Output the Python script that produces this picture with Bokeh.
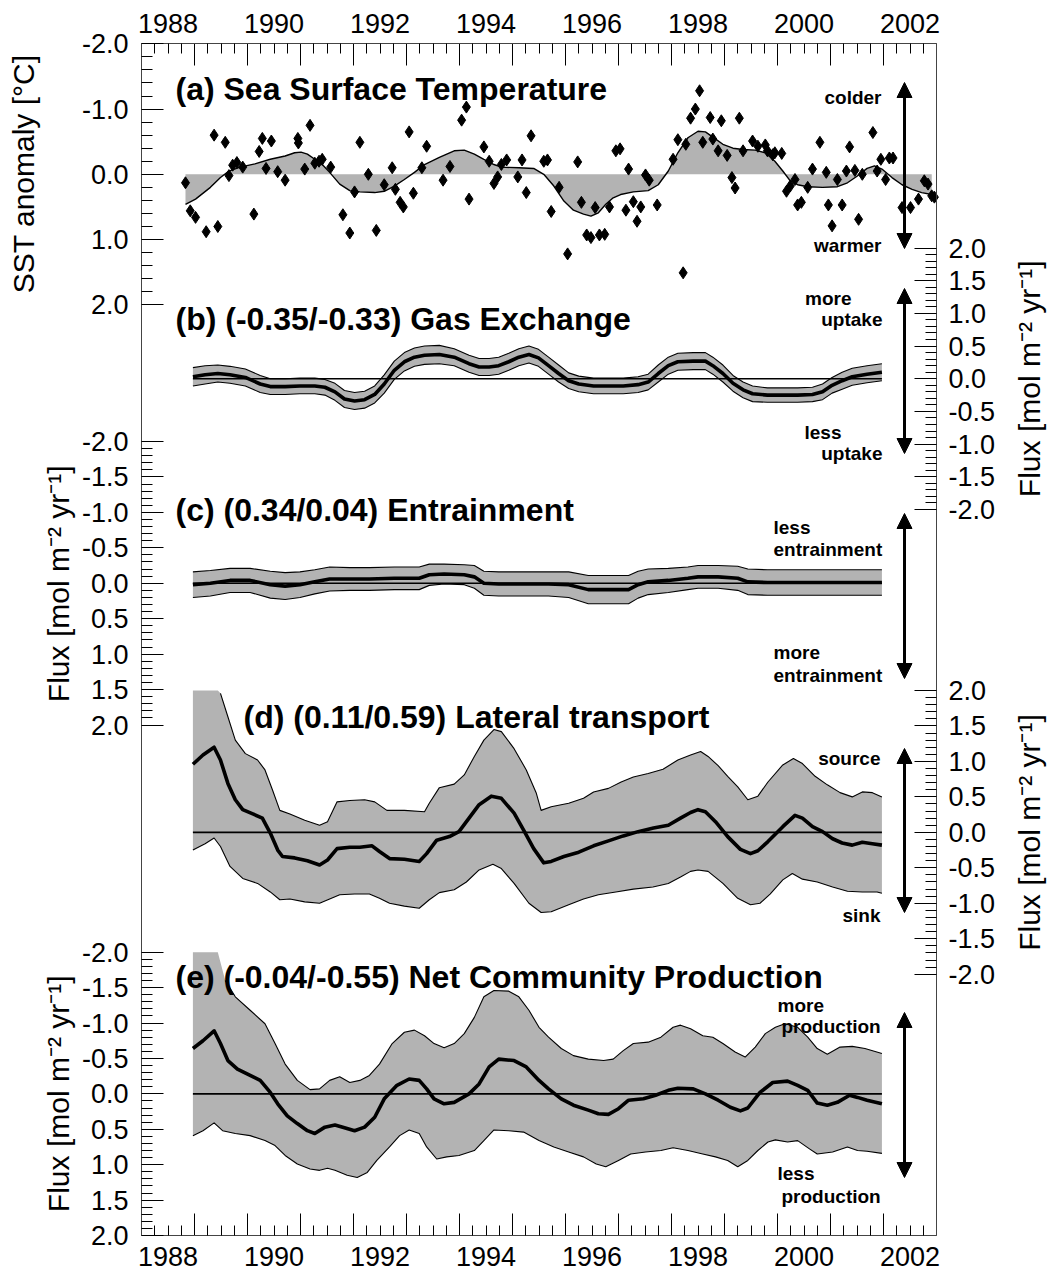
import numpy as np
from bokeh.plotting import figure
from bokeh.models import (Range1d, LinearAxis, FixedTicker, CustomJSTickFormatter,
                          Label, Arrow, NormalHead)
from bokeh.embed import file_html
from bokeh.resources import INLINE

# ---------------- data ----------------
# (a) SST anomaly, monthly points [deg C] (positive = warmer, plotted downward)
sst_year = [1988.33, 1988.42, 1988.52, 1988.72, 1988.87, 1988.94, 1989.08, 1989.15, 1989.22, 1989.30,
            1989.41, 1989.62, 1989.72, 1989.78, 1989.85, 1989.95, 1990.07, 1990.21, 1990.45, 1990.46,
            1990.58, 1990.68, 1990.77, 1990.85, 1990.91, 1991.07, 1991.30, 1991.43, 1991.52, 1991.62,
            1991.78, 1991.93, 1992.08, 1992.23, 1992.29, 1992.38, 1992.44, 1992.55, 1992.63, 1992.79,
            1992.88, 1993.19, 1993.32, 1993.54, 1993.63, 1993.68, 1993.96, 1994.06, 1994.15, 1994.22,
            1994.29, 1994.39, 1994.60, 1994.68, 1994.76, 1994.85, 1995.09, 1995.16, 1995.23, 1995.38,
            1995.54, 1995.73, 1995.80, 1995.90, 1995.98, 1996.06, 1996.14, 1996.24, 1996.33, 1996.45,
            1996.53, 1996.64, 1996.69, 1996.78, 1996.85, 1996.92, 1997.01, 1997.08, 1997.23, 1997.53,
            1997.62, 1997.72, 1997.77, 1997.86, 1997.95, 1998.03, 1998.09, 1998.23, 1998.28, 1998.38,
            1998.44, 1998.55, 1998.64, 1998.70, 1998.78, 1998.85, 1999.03, 1999.13, 1999.27, 1999.31,
            1999.41, 1999.45, 1999.58, 1999.67, 1999.74, 1999.83, 1999.88, 1999.95, 2000.07, 2000.16,
            2000.30, 2000.42, 2000.46, 2000.53, 2000.63, 2000.72, 2000.80, 2000.86, 2000.96, 2001.03,
            2001.10, 2001.30, 2001.38, 2001.45, 2001.54, 2001.61, 2001.68, 2001.85, 2002.01, 2002.16,
            2002.27, 2002.34, 2002.41, 2002.46]
sst_anom = [0.13, 0.56, 0.66, 0.88, -0.60, 0.80, -0.49, 0.02, -0.14, -0.18,
            -0.11, 0.61, -0.35, -0.55, -0.09, -0.51, -0.04, 0.09, -0.55, -0.48,
            -0.08, -0.75, -0.17, -0.20, -0.23, -0.11, 0.62, 0.90, 0.27, -0.49,
            0.00, 0.86, 0.16, -0.10, 0.23, 0.43, 0.50, -0.65, 0.29, -0.10,
            -0.43, 0.09, -0.12, -0.83, -1.03, 0.38, -0.42, -0.20, 0.14, 0.04,
            -0.15, -0.22, 0.04, -0.22, 0.28, -0.59, -0.20, -0.22, 0.57, 0.20,
            1.22, -0.19, 0.43, 0.93, 0.97, 0.51, 0.93, 0.92, 0.50, -0.36,
            -0.39, 0.55, -0.08, 0.42, 0.72, 0.50, 0.01, 0.09, 0.47, -0.23,
            -0.53, 1.51, -0.46, -0.86, -1.00, -1.28, -0.49, -0.87, -0.54, -0.36,
            -0.82, -0.29, 0.05, 0.21, -0.86, -0.36, -0.51, -0.43, -0.45, -0.36,
            -0.30, -0.33, -0.32, 0.26, 0.18, 0.08, 0.47, 0.43, 0.20, -0.08,
            -0.49, -0.03, 0.47, 0.79, 0.08, 0.47, -0.05, -0.42, -0.06, 0.69,
            0.00, -0.64, -0.05, -0.23, 0.08, -0.25, -0.25, 0.51, 0.51, 0.38,
            0.10, 0.15, 0.33, 0.35]
# (a) smoothed SST anomaly
sst_smooth_year = [1988.33, 1988.52, 1988.80, 1988.99, 1989.15, 1989.36, 1989.64, 1989.93, 1990.21, 1990.39,
                   1990.51, 1990.63, 1990.77, 1990.91, 1991.05, 1991.24, 1991.43, 1991.62, 1991.90, 1992.08,
                   1992.27, 1992.46, 1992.65, 1992.84, 1993.12, 1993.40, 1993.59, 1993.78, 1993.96, 1994.15,
                   1994.29, 1994.62, 1994.90, 1995.09, 1995.28, 1995.47, 1995.65, 1995.84, 1995.98, 1996.12,
                   1996.26, 1996.40, 1996.54, 1996.78, 1997.06, 1997.25, 1997.44, 1997.62, 1997.81, 1998.00,
                   1998.14, 1998.28, 1998.47, 1998.66, 1998.85, 1999.08, 1999.27, 1999.45, 1999.60, 1999.74,
                   1999.88, 2000.07, 2000.35, 2000.63, 2000.82, 2001.00, 2001.19, 2001.33, 2001.47, 2001.66,
                   2001.85, 2002.04, 2002.22, 2002.41]
sst_smooth = [0.46, 0.38, 0.20, 0.05, -0.05, -0.11, -0.16, -0.23, -0.28, -0.33,
              -0.34, -0.31, -0.23, -0.15, -0.03, 0.15, 0.25, 0.27, 0.28, 0.26,
              0.18, 0.08, -0.03, -0.15, -0.26, -0.36, -0.37, -0.31, -0.23, -0.15,
              -0.11, -0.10, -0.09, 0.00, 0.18, 0.41, 0.55, 0.61, 0.64, 0.59,
              0.46, 0.36, 0.31, 0.27, 0.25, 0.16, -0.05, -0.33, -0.56, -0.66,
              -0.65, -0.57, -0.46, -0.40, -0.38, -0.37, -0.33, -0.20, -0.05, 0.10,
              0.16, 0.19, 0.20, 0.19, 0.13, 0.03, -0.09, -0.13, -0.08, 0.05,
              0.16, 0.23, 0.28, 0.31]

# (b) gas exchange [mol m-2 yr-1]
gas_year = [1988.47, 1988.70, 1988.94, 1989.17, 1989.46, 1989.74, 1989.93, 1990.21, 1990.49, 1990.77,
            1990.96, 1991.15, 1991.33, 1991.52, 1991.71, 1991.90, 1992.08, 1992.27, 1992.46, 1992.65,
            1992.84, 1993.12, 1993.40, 1993.68, 1993.87, 1994.06, 1994.24, 1994.43, 1994.62, 1994.81,
            1994.99, 1995.18, 1995.37, 1995.56, 1995.75, 1996.03, 1996.31, 1996.59, 1996.87, 1997.06,
            1997.25, 1997.44, 1997.62, 1997.91, 1998.14, 1998.28, 1998.47, 1998.66, 1998.85, 1999.03,
            1999.31, 1999.60, 1999.88, 2000.16, 2000.35, 2000.53, 2000.72, 2000.91, 2001.19, 2001.47]
gas_flux = [0.03, 0.06, 0.08, 0.06, 0.02, -0.08, -0.12, -0.12, -0.11, -0.11,
            -0.13, -0.20, -0.31, -0.34, -0.32, -0.24, -0.08, 0.13, 0.26, 0.33,
            0.36, 0.37, 0.33, 0.23, 0.18, 0.18, 0.20, 0.26, 0.33, 0.37,
            0.32, 0.20, 0.08, -0.03, -0.08, -0.11, -0.11, -0.11, -0.09, -0.05,
            0.08, 0.20, 0.26, 0.27, 0.27, 0.20, 0.08, -0.07, -0.17, -0.23,
            -0.25, -0.25, -0.25, -0.24, -0.20, -0.10, -0.03, 0.03, 0.07, 0.10]
gas_unc = [0.14, 0.14, 0.13, 0.13, 0.13, 0.13, 0.12, 0.12, 0.12, 0.12,
           0.12, 0.13, 0.13, 0.13, 0.13, 0.13, 0.14, 0.14, 0.14, 0.14,
           0.14, 0.14, 0.13, 0.13, 0.13, 0.13, 0.13, 0.13, 0.13, 0.13,
           0.13, 0.13, 0.13, 0.12, 0.12, 0.12, 0.12, 0.12, 0.12, 0.12,
           0.13, 0.13, 0.13, 0.13, 0.13, 0.13, 0.13, 0.12, 0.12, 0.12,
           0.11, 0.11, 0.11, 0.11, 0.12, 0.12, 0.13, 0.13, 0.13, 0.13]

# (c) entrainment
ent_year = [1988.47, 1988.80, 1989.17, 1989.55, 1989.93, 1990.21, 1990.49, 1990.77, 1991.05, 1991.43,
            1991.80, 1992.27, 1992.74, 1992.93, 1993.21, 1993.59, 1993.78, 1993.96, 1994.24, 1994.62,
            1995.18, 1995.56, 1995.93, 1996.31, 1996.69, 1996.87, 1997.06, 1997.44, 1997.81, 1998.00,
            1998.38, 1998.75, 1998.94, 1999.31, 1999.78, 2000.25, 2000.72, 2001.47]
ent_flux = [0.02, 0.00, -0.04, -0.04, 0.02, 0.04, 0.02, -0.02, -0.06, -0.06,
            -0.06, -0.07, -0.07, -0.12, -0.13, -0.12, -0.09, 0.00, 0.01, 0.01,
            0.01, 0.02, 0.09, 0.09, 0.09, 0.02, -0.02, -0.04, -0.07, -0.09,
            -0.09, -0.07, -0.02, -0.01, -0.01, -0.01, -0.01, -0.01]
ent_unc = [0.18, 0.18, 0.17, 0.17, 0.19, 0.19, 0.18, 0.17, 0.17, 0.16,
           0.16, 0.16, 0.16, 0.15, 0.14, 0.14, 0.16, 0.17, 0.17, 0.17,
           0.17, 0.18, 0.20, 0.20, 0.20, 0.19, 0.18, 0.17, 0.16, 0.16,
           0.16, 0.17, 0.18, 0.18, 0.18, 0.18, 0.18, 0.18]

# (d) lateral transport
lat_year = [1988.47, 1988.66, 1988.87, 1988.99, 1989.13, 1989.27, 1989.41, 1989.60, 1989.78, 1989.93,
            1990.07, 1990.16, 1990.39, 1990.63, 1990.86, 1991.01, 1991.19, 1991.43, 1991.62, 1991.85,
            1991.99, 1992.18, 1992.46, 1992.74, 1992.88, 1993.07, 1993.31, 1993.49, 1993.68, 1993.87,
            1994.10, 1994.29, 1994.53, 1994.71, 1994.90, 1995.09, 1995.23, 1995.47, 1995.75, 1996.03,
            1996.31, 1996.59, 1996.87, 1997.16, 1997.44, 1997.67, 1997.86, 1998.00, 1998.14, 1998.33,
            1998.56, 1998.80, 1998.99, 1999.13, 1999.32, 1999.60, 1999.83, 1999.97, 2000.16, 2000.35,
            2000.54, 2000.72, 2000.91, 2001.10, 2001.29, 2001.47]
lat_flux = [0.96, 1.09, 1.20, 1.02, 0.69, 0.46, 0.32, 0.26, 0.20, -0.01,
            -0.25, -0.34, -0.36, -0.40, -0.46, -0.39, -0.23, -0.21, -0.21, -0.19,
            -0.27, -0.37, -0.38, -0.41, -0.30, -0.11, -0.06, 0.01, 0.20, 0.39,
            0.51, 0.48, 0.27, 0.03, -0.23, -0.43, -0.41, -0.34, -0.28, -0.19,
            -0.12, -0.05, 0.01, 0.06, 0.10, 0.20, 0.28, 0.32, 0.29, 0.15,
            -0.06, -0.24, -0.30, -0.26, -0.13, 0.08, 0.24, 0.20, 0.08, 0.01,
            -0.09, -0.15, -0.18, -0.14, -0.16, -0.18]
lat_hi_year = [1988.47, 1988.94, 1988.99, 1989.13, 1989.27, 1989.46, 1989.69, 1989.83, 1989.97, 1990.11,
               1990.30, 1990.58, 1990.86, 1991.01, 1991.19, 1991.43, 1991.71, 1991.90, 1992.13, 1992.46,
               1992.84, 1992.93, 1993.12, 1993.40, 1993.59, 1993.78, 1993.96, 1994.15, 1994.29, 1994.53,
               1994.76, 1994.95, 1995.04, 1995.23, 1995.56, 1995.84, 1996.03, 1996.31, 1996.55, 1996.78,
               1997.06, 1997.34, 1997.62, 1997.86, 1998.05, 1998.19, 1998.38, 1998.56, 1998.75, 1998.94,
               1999.13, 1999.32, 1999.60, 1999.80, 1999.97, 2000.21, 2000.44, 2000.68, 2000.91, 2001.10,
               2001.29, 2001.47]
lat_hi = [2.60, 2.10, 1.96, 1.63, 1.30, 1.11, 1.02, 0.88, 0.60, 0.31,
          0.26, 0.17, 0.10, 0.15, 0.43, 0.45, 0.46, 0.43, 0.31, 0.31,
          0.29, 0.41, 0.63, 0.68, 0.81, 1.07, 1.30, 1.45, 1.42, 1.18,
          0.88, 0.55, 0.31, 0.36, 0.41, 0.48, 0.57, 0.62, 0.71, 0.78,
          0.83, 0.89, 1.02, 1.09, 1.14, 1.07, 0.94, 0.79, 0.64, 0.46,
          0.51, 0.71, 0.95, 1.04, 0.97, 0.79, 0.67, 0.56, 0.50, 0.57,
          0.56, 0.50]
lat_lo_year = [1988.47, 1988.70, 1988.87, 1988.99, 1989.17, 1989.41, 1989.69, 1989.93, 1990.11, 1990.30,
               1990.58, 1990.86, 1991.05, 1991.24, 1991.52, 1991.80, 1991.99, 1992.18, 1992.46, 1992.74,
               1992.93, 1993.12, 1993.40, 1993.63, 1993.87, 1994.13, 1994.29, 1994.53, 1994.81, 1995.04,
               1995.23, 1995.56, 1995.84, 1996.12, 1996.45, 1996.78, 1997.15, 1997.44, 1997.67, 1997.86,
               1998.00, 1998.19, 1998.47, 1998.75, 1998.99, 1999.17, 1999.36, 1999.60, 1999.78, 1999.97,
               2000.25, 2000.54, 2000.82, 2001.10, 2001.38, 2001.47]
lat_lo = [-0.25, -0.16, -0.08, -0.20, -0.48, -0.65, -0.72, -0.84, -0.95, -0.94,
          -0.98, -1.00, -0.94, -0.88, -0.87, -0.87, -0.93, -1.00, -1.04, -1.07,
          -0.95, -0.85, -0.81, -0.70, -0.53, -0.45, -0.51, -0.72, -1.00, -1.13,
          -1.12, -1.02, -0.94, -0.88, -0.84, -0.80, -0.77, -0.72, -0.63, -0.55,
          -0.53, -0.55, -0.72, -0.93, -1.02, -1.00, -0.87, -0.67, -0.58, -0.66,
          -0.70, -0.77, -0.83, -0.84, -0.84, -0.86]

# (e) net community production
ncp_year = [1988.47, 1988.66, 1988.87, 1988.99, 1989.13, 1989.31, 1989.55, 1989.74, 1989.93, 1990.07,
            1990.25, 1990.44, 1990.63, 1990.77, 1990.96, 1991.15, 1991.33, 1991.52, 1991.71, 1991.90,
            1992.08, 1992.32, 1992.55, 1992.74, 1992.88, 1993.02, 1993.21, 1993.40, 1993.68, 1993.87,
            1994.06, 1994.24, 1994.53, 1994.76, 1995.00, 1995.18, 1995.42, 1995.65, 1995.93, 1996.12,
            1996.31, 1996.50, 1996.69, 1996.97, 1997.20, 1997.44, 1997.62, 1997.91, 1998.14, 1998.38,
            1998.61, 1998.80, 1998.94, 1999.17, 1999.41, 1999.69, 1999.88, 2000.07, 2000.25, 2000.44,
            2000.63, 2000.86, 2001.01, 2001.19, 2001.47]
ncp_flux = [-0.64, -0.75, -0.89, -0.71, -0.47, -0.35, -0.26, -0.19, -0.02, 0.14,
            0.31, 0.42, 0.52, 0.56, 0.47, 0.44, 0.48, 0.52, 0.47, 0.33,
            0.07, -0.12, -0.21, -0.19, -0.07, 0.07, 0.14, 0.12, 0.00, -0.14,
            -0.38, -0.49, -0.47, -0.38, -0.19, -0.07, 0.07, 0.16, 0.23, 0.28,
            0.29, 0.21, 0.09, 0.07, 0.02, -0.05, -0.08, -0.07, 0.00, 0.09,
            0.19, 0.24, 0.20, -0.02, -0.16, -0.18, -0.12, -0.05, 0.13, 0.16,
            0.12, 0.02, 0.05, 0.09, 0.14]
ncp_hi_year = [1988.47, 1988.94, 1989.08, 1989.27, 1989.55, 1989.83, 1990.02, 1990.21, 1990.44, 1990.68,
               1990.86, 1991.05, 1991.24, 1991.43, 1991.62, 1991.80, 1991.99, 1992.23, 1992.46, 1992.65,
               1992.84, 1993.02, 1993.21, 1993.40, 1993.59, 1993.78, 1993.96, 1994.15, 1994.43, 1994.62,
               1994.81, 1995.00, 1995.18, 1995.42, 1995.65, 1995.93, 1996.22, 1996.40, 1996.59, 1996.78,
               1997.06, 1997.30, 1997.53, 1997.67, 1997.86, 1998.09, 1998.28, 1998.47, 1998.70, 1998.89,
               1999.08, 1999.27, 1999.46, 1999.64, 1999.88, 2000.07, 2000.25, 2000.44, 2000.68, 2000.91,
               2001.15, 2001.47]
ncp_hi = [-2.60, -2.05, -1.60, -1.37, -1.18, -0.99, -0.71, -0.42, -0.19, -0.06,
          -0.07, -0.19, -0.24, -0.16, -0.19, -0.26, -0.42, -0.71, -0.87, -0.90,
          -0.82, -0.71, -0.65, -0.71, -0.85, -1.08, -1.37, -1.46, -1.45, -1.37,
          -1.18, -0.94, -0.80, -0.64, -0.54, -0.49, -0.47, -0.49, -0.61, -0.71,
          -0.73, -0.80, -0.94, -0.97, -0.92, -0.82, -0.80, -0.71, -0.59, -0.52,
          -0.66, -0.85, -0.94, -0.99, -0.94, -0.80, -0.64, -0.56, -0.66, -0.67,
          -0.64, -0.57]
ncp_lo_year = [1988.47, 1988.66, 1988.87, 1989.03, 1989.27, 1989.55, 1989.83, 1990.02, 1990.21, 1990.44,
               1990.68, 1990.86, 1991.01, 1991.15, 1991.38, 1991.57, 1991.76, 1991.94, 1992.18, 1992.37,
               1992.55, 1992.74, 1992.88, 1993.07, 1993.26, 1993.49, 1993.78, 1993.96, 1994.15, 1994.43,
               1994.71, 1995.00, 1995.28, 1995.56, 1995.84, 1996.08, 1996.26, 1996.50, 1996.73, 1997.01,
               1997.30, 1997.53, 1997.81, 1998.09, 1998.33, 1998.56, 1998.75, 1998.94, 1999.13, 1999.32,
               1999.46, 1999.69, 1999.88, 2000.11, 2000.25, 2000.54, 2000.82, 2001.01, 2001.19, 2001.47]
ncp_lo = [0.59, 0.52, 0.41, 0.52, 0.56, 0.59, 0.66, 0.73, 0.87, 0.99,
          1.06, 1.08, 1.05, 1.08, 1.15, 1.18, 1.11, 0.94, 0.75, 0.59,
          0.51, 0.56, 0.75, 0.92, 0.89, 0.87, 0.80, 0.66, 0.51, 0.52,
          0.54, 0.66, 0.75, 0.82, 0.89, 0.99, 1.03, 0.94, 0.85, 0.82,
          0.80, 0.76, 0.80, 0.85, 0.89, 0.94, 1.03, 0.94, 0.80, 0.68,
          0.65, 0.68, 0.66, 0.78, 0.85, 0.82, 0.75, 0.80, 0.81, 0.84]

year_labels = [1988, 1990, 1992, 1994, 1996, 1998, 2000, 2002]

# ---------------- layout ----------------
W, H = 1047, 1270
FL, FR, FT, FB = 141, 936, 43, 1235          # pixel box of the axes
X0, X1 = 1987.5, 2002.5                      # years at the box edges
PPY = (FR - FL) / (X1 - X0)                  # pixels per year
FONT = "Liberation Sans"
GRAY = "#b3b3b3"
BOX = "#444444"
LIM = 2.0

# pixel rows of the +-2 limits of each panel: (px top, px bottom, value top, value bottom)
PANEL_PX = {
    "a": (43.3, 304.3, -2.0, 2.0),
    "b": (247.5, 509.0, 2.0, -2.0),
    "c": (441.0, 724.5, -2.0, 2.0),
    "d": (690.0, 973.7, 2.0, -2.0),
    "e": (951.7, 1235.0, -2.0, 2.0),
}


def val_at(k, px):
    t, b, vt, vb = PANEL_PX[k]
    return vt + (px - t) * (vb - vt) / (b - t)


def px_at(k, v):
    t, b, vt, vb = PANEL_PX[k]
    return t + (v - vt) * (b - t) / (vb - vt)


# the frame covers the whole canvas; the axes are drawn at fixed locations
p = figure(width=W, height=H, output_backend="svg", toolbar_location=None,
           x_range=Range1d(X0 - FL / PPY, X1 + (W - FR) / PPY), y_range=Range1d(H, 0),
           x_axis_type=None, y_axis_type=None, min_border=0)
p.outline_line_color = None
p.background_fill_color = "white"
p.border_fill_color = "white"
p.extra_x_ranges = {"px": Range1d(0, W)}
p.extra_y_ranges = {k: Range1d(val_at(k, H), val_at(k, 0)) for k in PANEL_PX}

# ---------------- x axes ----------------
half_years = [X0 + k for k in range(16)]
quarter = [X0 + 0.25 * k for k in range(61)]
quarter_minor = [q for q in quarter
                 if abs((q - X0) % 1.0) > 1e-6 and all(abs(q - y) > 1e-6 for y in year_labels)]

for side, loc, standoff in (("above", FT, 11), ("below", FB, 11)):
    ax_t = LinearAxis(ticker=FixedTicker(ticks=[], minor_ticks=half_years),
                      fixed_location=loc, bounds=(X0, X1),
                      major_tick_in=0, major_tick_out=0, minor_tick_in=22, minor_tick_out=0,
                      minor_tick_line_color="black", axis_line_color=None)
    p.add_layout(ax_t, side)
    ax_l = LinearAxis(ticker=FixedTicker(ticks=year_labels, minor_ticks=quarter_minor),
                      fixed_location=loc, bounds=(X0, X1),
                      major_tick_in=10, major_tick_out=0, minor_tick_in=10, minor_tick_out=0,
                      major_tick_line_color="black", minor_tick_line_color="black",
                      axis_line_color=BOX, axis_line_width=1, major_label_standoff=standoff,
                      major_label_text_font=FONT, major_label_text_font_size="27px",
                      major_label_text_color="black")
    p.add_layout(ax_l, side)


# ---------------- y axes (one per side, ticks of several panels) ----------------
def panel_ticks(k, step_major, step_minor):
    majors = [round(-2 + i * step_major, 2) for i in range(int(round(4 / step_major)) + 1)]
    allm = [round(-2 + i * step_minor, 2) for i in range(int(round(4 / step_minor)) + 1)]
    minors = [v for v in allm if all(abs(v - m) > 1e-6 for m in majors)]
    return ([px_at(k, v) for v in majors], [f"{v + 0.0:.1f}" for v in majors],
            [px_at(k, v) for v in minors])


def side_axis(specs, side, loc, standoff):
    pos, lab, mino = [], [], []
    for k, smj, smn in specs:
        a, b, c = panel_ticks(k, smj, smn)
        pos += a
        lab += b
        mino += c
    fmt = CustomJSTickFormatter(args=dict(pos=pos, lab=lab), code="""
        let j = -1, d = 1e9;
        for (let i = 0; i < pos.length; i++) {
            const e = Math.abs(pos[i] - tick);
            if (e < d) { d = e; j = i; }
        }
        return (j >= 0 && d < 1e-3) ? lab[j] : "";
    """)
    ax = LinearAxis(ticker=FixedTicker(ticks=pos, minor_ticks=mino), formatter=fmt,
                    fixed_location=loc, bounds=(FT, FB),
                    major_tick_in=22, major_tick_out=0, minor_tick_in=11, minor_tick_out=0,
                    major_tick_line_color="black", minor_tick_line_color="black",
                    axis_line_color=BOX, axis_line_width=1, major_label_standoff=standoff,
                    major_label_text_font=FONT, major_label_text_font_size="27px",
                    major_label_text_color="black")
    p.add_layout(ax, side)


side_axis([("a", 1.0, 0.2), ("c", 0.5, 0.1), ("e", 0.5, 0.1)], "left", X0, 13)
side_axis([("b", 0.5, 0.1), ("d", 0.5, 0.1)], "right", X1, 12)

# ---------------- panel (a) ----------------
p.varea(x=sst_smooth_year, y1=0, y2=sst_smooth, fill_color=GRAY, y_range_name="a")
p.line(sst_smooth_year, sst_smooth, line_color="black", line_width=1.4, y_range_name="a")
p.scatter(sst_year, sst_anom, marker="diamond", size=12, color="black", y_range_name="a")


# ---------------- band panels ----------------
def band_panel(k, xc, yc, xh, yh, xl, yl):
    yh = np.asarray(yh, float)
    yl = np.asarray(yl, float)
    yh_c = np.clip(yh, -LIM, LIM)
    yl_c = np.clip(yl, -LIM, LIM)
    xs = list(xh) + list(xl)[::-1]
    ys = list(yh_c) + list(yl_c)[::-1]
    p.patch(xs, ys, fill_color=GRAY, line_color=None, y_range_name=k)
    p.line([xc[0], xc[-1]], [0, 0], line_color="black", line_width=1.6, y_range_name=k)
    p.line(list(xh), list(np.where(np.abs(yh) > LIM, np.nan, yh)), line_color="black",
           line_width=1.1, line_join="round", y_range_name=k)
    p.line(list(xl), list(np.where(np.abs(yl) > LIM, np.nan, yl)), line_color="black",
           line_width=1.1, line_join="round", y_range_name=k)
    p.line(list(xc), list(yc), line_color="black", line_width=3.6, line_join="round",
           y_range_name=k)


gb = np.array(gas_flux)
gu = np.array(gas_unc)
band_panel("b", gas_year, gas_flux, gas_year, gb + gu, gas_year, gb - gu)
cb = np.array(ent_flux)
cu = np.array(ent_unc)
band_panel("c", ent_year, ent_flux, ent_year, cb - cu, ent_year, cb + cu)
band_panel("d", lat_year, lat_flux, lat_hi_year, lat_hi, lat_lo_year, lat_lo)
band_panel("e", ncp_year, ncp_flux, ncp_hi_year, ncp_hi, ncp_lo_year, ncp_lo)


# ---------------- texts ----------------
def text(txt, x, y, size, bold=False, align="left", baseline="alphabetic", angle=0.0):
    p.add_layout(Label(x=x, y=y, x_range_name="px", text=txt, text_font=FONT,
                       text_font_size=f"{size}px",
                       text_font_style="bold" if bold else "normal",
                       text_align=align, text_baseline=baseline, angle=angle,
                       text_color="black"))


titles = [("(a) Sea Surface Temperature", 175, 88.5),
          ("(b) (-0.35/-0.33) Gas Exchange", 175, 318),
          ("(c) (0.34/0.04) Entrainment", 175, 509),
          ("(d) (0.11/0.59) Lateral transport", 243, 716),
          ("(e) (-0.04/-0.55) Net Community Production", 175, 976)]
for t, x, y in titles:
    text(t, x, y, 32, bold=True, baseline="middle")

notes = [("colder", 881, 97, "right"), ("warmer", 881, 245, "right"),
         ("more", 851, 298, "right"), ("uptake", 882, 319, "right"),
         ("less", 841, 432, "right"), ("uptake", 882, 453, "right"),
         ("less", 773, 527, "left"), ("entrainment", 773, 549, "left"),
         ("more", 773, 652, "left"), ("entrainment", 773, 675, "left"),
         ("source", 880, 758, "right"), ("sink", 880, 915, "right"),
         ("more", 777, 1005, "left"), ("production", 781, 1026, "left"),
         ("less", 777, 1173, "left"), ("production", 781, 1196, "left")]
for t, x, y, al in notes:
    text(t, x, y, 19, bold=True, align=al)

flux_label = "Flux [mol m\u207b\u00b2 yr\u207b\u00b9]"
text("SST anomaly [\u00b0C]", 23, 173.3, 30, align="center", baseline="middle", angle=np.pi / 2)
text(flux_label, 58, 583.3, 30, align="center", baseline="middle", angle=np.pi / 2)
text(flux_label, 58, 1093.3, 30, align="center", baseline="middle", angle=np.pi / 2)
text(flux_label, 1029, 378.3, 30, align="center", baseline="middle", angle=np.pi / 2)
text(flux_label, 1029, 832.0, 30, align="center", baseline="middle", angle=np.pi / 2)

# ---------------- double arrows ----------------
for y0, y1 in ((82, 248), (288, 453), (513, 678), (748, 912), (1012, 1177)):
    p.add_layout(Arrow(x_start=904, y_start=y0, x_end=904, y_end=y1, x_range_name="px",
                       line_width=3, line_color="black",
                       start=NormalHead(size=15, fill_color="black", line_color="black"),
                       end=NormalHead(size=15, fill_color="black", line_color="black")))

open("out.html", "w").write(file_html(p, INLINE))
